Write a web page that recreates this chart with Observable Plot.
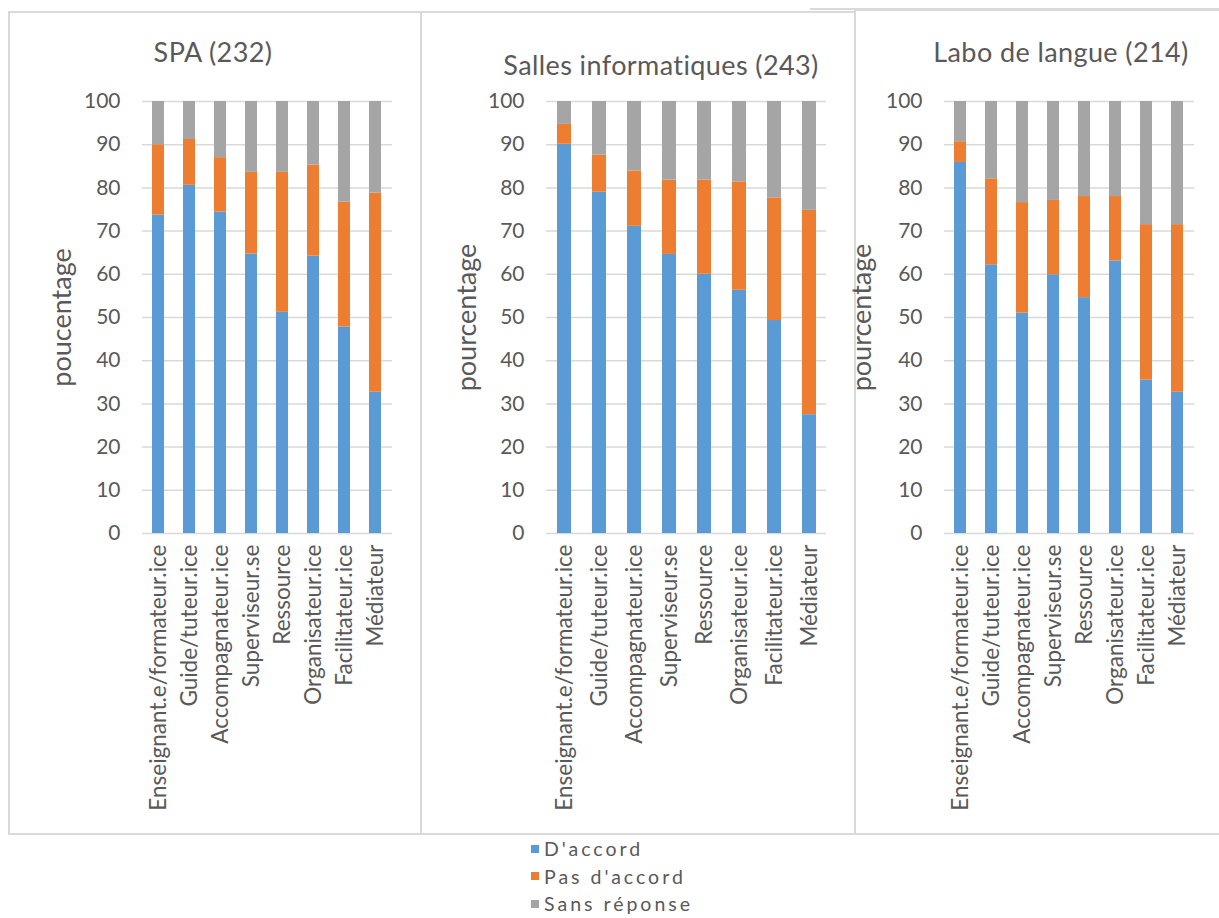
<!DOCTYPE html>
<html>
<head>
<meta charset="utf-8">
<script src="https://cdn.jsdelivr.net/npm/d3@7"></script>
<script src="https://cdn.jsdelivr.net/npm/@observablehq/plot@0.6"></script>
<style>
  html, body { margin: 0; padding: 0; background: #fff; }
  body { position: relative; width: 1219px; height: 918px; overflow: hidden; font-family: Lato, "Noto Sans", sans-serif; color: #595959; }
  .abs { position: absolute; }
  .title { position: absolute; width: 420px; text-align: center; font-size: 27px; letter-spacing: 0.4px; line-height: 30px; color: #595959; white-space: nowrap; }
  .border { position: absolute; background: #d9d9d9; }
  .legend { position: absolute; left: 531px; top: 835px; font-size: 19.5px; letter-spacing: 3px; color: #595959; }
  .legend .item { display: flex; align-items: center; height: 27.5px; }
  .legend .sw { width: 8px; height: 8px; margin-right: 5px; }
</style>
</head>
<body>
<script>
// ---- data ----
const categories = ["Enseignant.e/formateur.ice", "Guide/tuteur.ice", "Accompagnateur.ice", "Superviseur.se", "Ressource", "Organisateur.ice", "Facilitateur.ice", "Médiateur"];
const series = ["D'accord", "Pas d'accord", "Sans réponse"];
const colors = ["#5b9bd5", "#ed7d31", "#a5a5a5"];
const yTicks = [0, 10, 20, 30, 40, 50, 60, 70, 80, 90, 100];

const titles = ["SPA (232)", "Salles informatiques (243)", "Labo de langue (214)"];
const yLabels = ["poucentage", "pourcentage", "pourcentage"];

// SPA (232)
const spaAccord = [73.7, 80.6, 74.4, 64.7, 51.2, 64.2, 47.8, 32.7];
const spaPas    = [16.3, 10.6, 12.6, 18.9, 32.4, 21.1, 28.9, 46.1];
const spaSans   = [10.0,  8.8, 13.0, 16.4, 16.4, 14.7, 23.3, 21.2];
// Salles informatiques (243)
const salAccord = [90.1, 79.0, 71.1, 64.6, 60.0, 56.3, 49.3, 27.5];
const salPas    = [ 4.6,  8.6, 12.8, 17.2, 21.8, 25.1, 28.4, 47.3];
const salSans   = [ 5.3, 12.4, 16.1, 18.2, 18.2, 18.6, 22.3, 25.2];
// Labo de langue (214)
const labAccord = [85.9, 62.2, 51.0, 59.9, 54.6, 63.1, 35.5, 32.7];
const labPas    = [ 4.8, 19.9, 25.6, 17.2, 23.4, 14.9, 36.0, 38.8];
const labSans   = [ 9.3, 17.9, 23.4, 22.9, 22.0, 22.0, 28.5, 28.5];

const panelsData = [
  [spaAccord, spaPas, spaSans],
  [salAccord, salPas, salSans],
  [labAccord, labPas, labSans]
];

// ---- layout ----
const layout = [
  {svgLeft: 9,   ml: 133, pw: 250, mr: 28, titleX: 213,  titleY: 52, labDx: -80},
  {svgLeft: 421, ml: 125, pw: 280, mr: 29, titleX: 661,  titleY: 65, labDx: -79},
  {svgLeft: 855, ml: 89,  pw: 250, mr: 25, titleX: 1061, titleY: 52, labDx: -82}
];

// borders
function rect(l, t, w, h) {
  const d = document.createElement("div");
  d.className = "border";
  Object.assign(d.style, {left: l + "px", top: t + "px", width: w + "px", height: h + "px"});
  document.body.appendChild(d);
}
rect(8, 11, 848, 2);      // top of panels 1-2
rect(855, 9, 364, 2);     // top of panel 3
rect(810, 8, 409, 2);     // extra top line
rect(8, 11, 2, 824);      // left
rect(420, 11, 2, 823);    // divider 1
rect(854, 9, 2, 826);     // divider 2
rect(8, 833, 1211, 2);    // bottom

panelsData.forEach((vals, p) => {
  const L = layout[p];
  const rows = [];
  series.forEach((s, si) => {
    categories.forEach((c, ci) => rows.push({cat: c, serie: s, value: vals[si][ci]}));
  });
  const chart = Plot.plot({
    width: L.ml + L.pw + L.mr,
    height: 733,
    marginTop: 11,
    marginBottom: 290,
    marginLeft: L.ml,
    marginRight: L.mr,
    style: {fontFamily: "Lato, 'Noto Sans', sans-serif", fontSize: "21px", color: "#595959", background: "transparent", overflow: "visible"},
    x: {domain: categories, paddingInner: 0.6, paddingOuter: 0.3},
    y: {domain: [0, 100]},
    color: {domain: series, range: colors},
    marks: [
      Plot.gridY(yTicks, {stroke: "#d9d9d9", strokeOpacity: 1, strokeWidth: 1.5}),
      Plot.barY(rows, {x: "cat", y: "value", fill: "serie"}),
      Plot.axisY({ticks: yTicks, tickSize: 0, tickPadding: 22, label: null, fill: "#595959"}),
      Plot.axisX({tickRotate: -90, tickSize: 0, tickPadding: 11, label: null, fill: "#595959", fontSize: 22.5}),
      Plot.text([yLabels[p]], {frameAnchor: "left", rotate: -90, dx: L.labDx, text: d => d, fill: "#595959", fontSize: 27, textAnchor: "middle", lineAnchor: "middle", letterSpacing: "3.5px"})
    ]
  });
  chart.classList.add("abs");
  chart.style.left = L.svgLeft + "px";
  chart.style.top = "90px";
  document.body.appendChild(chart);

  const t = document.createElement("div");
  t.className = "title";
  t.textContent = titles[p];
  t.style.left = (L.titleX - 210) + "px";
  t.style.top = (L.titleY - 15) + "px";
  document.body.appendChild(t);
});

// legend
const lg = document.createElement("div");
lg.className = "legend";
series.forEach((s, i) => {
  const it = document.createElement("div");
  it.className = "item";
  const sw = document.createElement("span");
  sw.className = "sw";
  sw.style.background = colors[i];
  const tx = document.createElement("span");
  tx.textContent = s;
  it.appendChild(sw);
  it.appendChild(tx);
  lg.appendChild(it);
});
document.body.appendChild(lg);
</script>
</body>
</html>
